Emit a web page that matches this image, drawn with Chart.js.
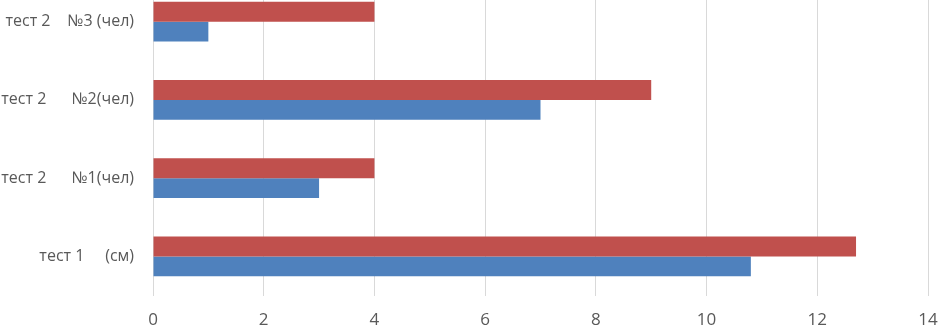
<!DOCTYPE html>
<html>
<head>
<meta charset="utf-8">
<script src="https://cdn.jsdelivr.net/npm/chart.js@4"></script>
<style>
  html, body { margin: 0; padding: 0; background: #fff; overflow: hidden; }
  #wrap { position: absolute; left: 0; top: -24px; width: 938px; height: 350px; }
</style>
</head>
<body>
<div id="wrap"><canvas id="barChart"></canvas></div>
<script>
// categories listed top to bottom
const categories = [
  'тест 2    №3 (чел)',
  'тест 2      №2(чел)',
  'тест 2      №1(чел)',
  'тест 1     (см)'
];
const redValues = [4, 9, 4, 12.7];
const blueValues = [1, 7, 3, 10.8];
const xTicks = [0, 2, 4, 6, 8, 10, 12, 14];

document.addEventListener('DOMContentLoaded', function () {
  const ctx = document.getElementById('barChart').getContext('2d');
  new Chart(ctx, {
    type: 'bar',
    data: {
      labels: categories,
      datasets: [
        { label: 'red', data: redValues, backgroundColor: '#C0504D' },
        { label: 'blue', data: blueValues, backgroundColor: '#4F81BD' }
      ]
    },
    options: {
      indexAxis: 'y',
      responsive: true,
      maintainAspectRatio: false,
      animation: false,
      layout: { padding: { top: 6.5, right: 10, bottom: 0, left: 0 } },
      plugins: { legend: { display: false }, tooltip: { enabled: false } },
      datasets: { bar: { categoryPercentage: 0.51, barPercentage: 1 } },
      scales: {
        x: {
          min: 0,
          max: 14,
          afterBuildTicks: (axis) => { axis.ticks = xTicks.map(v => ({ value: v })); },
          afterFit: (axis) => {
            axis.height = 30.5;
            axis.paddingLeft = 0;
            axis.paddingRight = 0;
          },
          grid: { color: '#D9D9D9', drawTicks: false },
          border: { display: false },
          ticks: { color: '#595959', padding: 14, font: { family: 'Open Sans', size: 17 } }
        },
        y: {
          afterFit: (axis) => {
            axis.width = 153;
            axis.paddingTop = 0;
            axis.paddingBottom = 0;
          },
          grid: { display: false, drawTicks: false },
          border: { display: false },
          ticks: { color: '#595959', padding: 19, font: { family: 'Open Sans', size: 16 } }
        }
      }
    }
  });
});
</script>
</body>
</html>
